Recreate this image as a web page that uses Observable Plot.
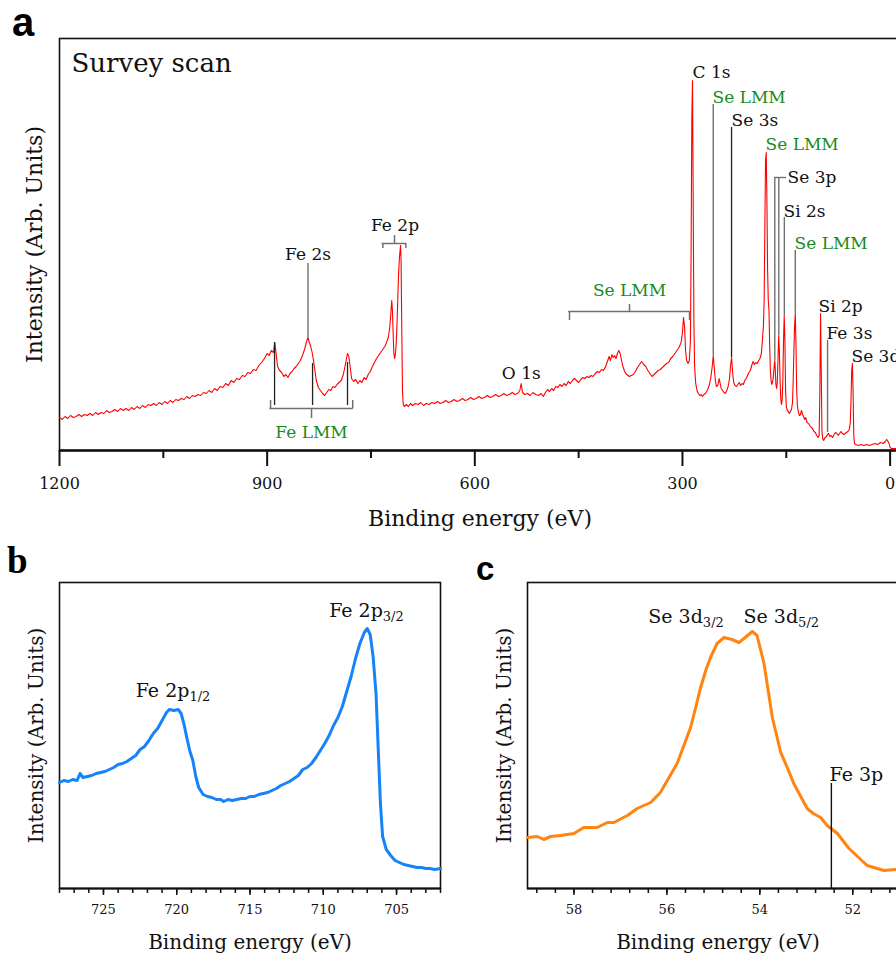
<!DOCTYPE html>
<html>
<head>
<meta charset="utf-8">
<script src="https://cdn.jsdelivr.net/npm/d3@7"></script>
<script src="https://cdn.jsdelivr.net/npm/@observablehq/plot@0.6"></script>
<style>
  html, body { margin: 0; padding: 0; background: #fff; overflow: hidden; }
  #figure { position: relative; width: 896px; height: 955px; overflow: hidden; background: #fff; }
  .panel { position: absolute; width: 1000px; }
  .panel svg { display: block; max-width: none !important; height: auto; }
  #tags { position: absolute; left: 0; top: 0; pointer-events: none; }
</style>
</head>
<body>
<div id="figure">
  <div class="panel" id="survey" style="left:0;top:0"></div>
  <div class="panel" id="fe2p" style="left:0;top:550px"></div>
  <div class="panel" id="se3d" style="left:450px;top:550px"></div>
  <svg id="tags" width="896" height="955">
    <text x="12" y="36" font-family="'Liberation Sans', Arial, sans-serif" font-weight="bold" font-size="40">a</text>
    <text x="7" y="573" font-family="'Liberation Serif', 'Times New Roman', serif" font-weight="bold" font-size="37">b</text>
    <text x="476" y="580" font-family="'Liberation Sans', Arial, sans-serif" font-weight="bold" font-size="33">c</text>
  </svg>
</div>
<script>
// ---------- (a) survey spectrum: [binding energy (eV), intensity (arb.)] ----------
const survey = [
  [1200,33],[1196,31],[1192,34],[1188,32],[1184,35],[1180,33],[1176,34],[1172,36],[1168,34],[1164,36],
  [1160,35],[1156,37],[1152,35],[1148,38],[1144,36],[1140,38],[1136,37],[1132,40],[1128,38],[1124,39],
  [1120,41],[1116,39],[1112,42],[1108,40],[1104,42],[1100,40],[1096,43],[1092,41],[1088,44],[1084,42],
  [1080,45],[1076,43],[1072,46],[1068,45],[1064,47],[1060,45],[1056,48],[1052,46],[1048,49],[1044,47],
  [1040,50],[1036,48],[1032,51],[1028,50],[1024,52],[1020,51],[1016,54],[1012,52],[1008,55],[1004,54],
  [1000,56],[996,55],[992,58],[988,57],[984,60],[980,58],[976,62],[972,60],[968,64],[964,63],
  [960,67],[956,65],[952,70],[948,68],[944,72],[940,71],[936,75],[932,74],[928,78],[924,77],
  [920,81],[916,80],[912,85],[908,88],[904,92],[900,97],[897,95],[894,100],[891,98],[889,108],
  [887,97],[885,84],[882,80],[879,78],[876,74],[873,76],[870,73],[867,77],[864,79],[861,82],
  [858,84],[855,87],[852,90],[849,95],[846,101],[843,109],[841,113],[839,108],[837,104],[835,98],
  [833,90],[831,80],[829,70],[826,63],[823,60],[820,57],[817,55],[814,58],[811,61],[808,60],
  [805,64],[802,63],[799,66],[796,68],[793,70],[790,76],[787,86],[784,97],[782,94],[780,83],
  [778,72],[775,69],[772,71],[769,67],[766,70],[763,68],[760,73],[757,71],[754,76],[751,79],
  [748,84],[745,88],[742,92],[739,95],[736,98],[733,101],[730,104],[727,109],[725,113],[723,122],
  [721,140],[720,150],[719,140],[718,118],[717,98],[716,92],[715,95],[714,102],[713,115],[712,135],
  [711,158],[710,178],[709,192],[708,200],[707.3,205],[706.5,190],[705.5,120],[704.5,60],[703.5,47],[702,44],
  [699,46],[696,44],[693,47],[690,45],[686,47],[682,46],[678,48],[674,45],[670,47],[666,46],
  [662,48],[658,47],[654,49],[650,47],[646,48],[642,50],[638,48],[634,49],[630,51],[626,49],
  [622,50],[618,52],[614,50],[610,51],[606,53],[602,51],[598,52],[594,54],[590,52],[586,53],
  [582,55],[578,53],[574,54],[570,56],[566,54],[562,55],[558,57],[554,55],[550,56],[546,58],
  [542,56],[538,57],[535,60],[533,67],[531,58],[528,56],[524,57],[520,55],[516,58],[512,56],
  [508,55],[504,57],[501,54],[498,58],[495,61],[492,59],[489,62],[486,60],[483,64],[480,63],
  [477,66],[474,64],[471,67],[468,65],[465,69],[462,67],[459,70],[456,72],[453,70],[450,68],
  [447,71],[444,73],[441,72],[438,74],[435,73],[432,75],[429,74],[426,77],[423,79],[420,78],
  [417,81],[414,80],[411,84],[408,90],[406,94],[404,90],[402,96],[400,93],[398,95],[396,92],
  [394,97],[392,100],[390,97],[388,90],[386,84],[384,80],[382,77],[380,76],[377,74],[374,75],
  [371,76],[368,79],[365,83],[362,86],[359,89],[356,86],[353,84],[350,80],[347,77],[344,74],
  [341,76],[338,78],[335,80],[332,81],[329,83],[326,85],[323,87],[320,88],[317,92],[314,94],
  [311,97],[308,100],[305,103],[302,108],[300,118],[298.5,133],[297,124],[295.5,100],[294,90],[292,87],
  [290,90],[288.5,110],[287.5,200],[286.5,330],[285.5,370],[284.5,250],[283.5,130],[282.5,85],[281,68],[279,60],
  [277,57],[275,55],[273,56],[271,54],[269,56],[267,57],[265,59],[263,62],[261,66],[259,73],
  [257,84],[255.5,95],[254,82],[252.5,70],[251,64],[249,65],[247,72],[245.5,67],[244,62],[242,60],
  [240,58],[238,57],[236,60],[234,64],[232,72],[230.5,85],[229,93],[227.5,78],[226,68],[224,65],
  [222,64],[220,66],[218,68],[216,65],[214,67],[212,66],[210,70],[208,72],[206,75],[204,78],
  [202,80],[200,85],[198,89],[196,86],[194,88],[192,87],[190,90],[188,92],[186,97],[184.5,110],
  [183,125],[182,150],[181,220],[180,290],[179,298],[178,250],[177,180],[176,150],[175,140],[174,105],
  [173,80],[172,70],[171,66],[170,68],[169,72],[168,80],[167,88],[166.5,90],[166,82],[165,66],
  [164,62],[163,68],[162,90],[161,115],[160,100],[159,70],[158,52],[157,46],[156,50],[155,70],
  [154,110],[153,135],[152,110],[151,60],[150,44],[148.5,40],[147,39],[145.5,37],[144,39],[142.5,41],
  [141,48],[140,70],[139,100],[138,125],[137,137],[136,105],[135,60],[134,45],[132.5,38],[131,35],
  [129.5,36],[128,40],[126.5,36],[125,34],[123.5,31],[122,33],[120,28],[118,27],[116,25],[114,23],
  [112,22],[110,19],[108,18],[106,15],[104,13],[102.5,15],[101.5,60],[100.5,137],[99.5,80],[98.5,20],
  [97.5,12],[96,10],[94,13],[92,14],[90.5,16],[89,17],[87,14],[85,15],[83,13],[81,16],
  [79,18],[77,17],[75,15],[73,17],[71,19],[69,17],[67,16],[65,17],[63,18],[61,19],
  [59,21],[57.5,28],[56.5,50],[55.5,80],[54.5,87],[53.5,60],[52.5,15],[51.5,7],[50,6],[46,5],
  [42,6],[38,5],[34,6],[30,5],[26,6],[22,7],[18,6],[14,8],[10,7],[7,9],
  [5,11],[3,9],[1,6],[0,3],[-2,2],[-6,2],[-10,2],[-15,2]
];
const surveyTicks = [1200, 900, 600, 300, 0];
const surveyMinorTicks = [1050, 750, 450, 150];

// Peak assignments: label baseline position in (eV, intensity); kind = core level or Auger
const peakLabels = [
  {label: "C 1s",   kind: "core",  be: 285.5, v: 373},
  {label: "Se LMM", kind: "auger", be: 256.6, v: 348},
  {label: "Se 3s",  kind: "core",  be: 229.1, v: 325},
  {label: "Se LMM", kind: "auger", be: 180.0, v: 301},
  {label: "Se 3p",  kind: "core",  be: 148.2, v: 268},
  {label: "Si 2s",  kind: "core",  be: 154.0, v: 234},
  {label: "Se LMM", kind: "auger", be: 138.1, v: 202},
  {label: "Si 2p",  kind: "core",  be: 103.4, v: 139},
  {label: "Fe 3s",  kind: "core",  be: 91.9,  v: 112},
  {label: "Se 3d",  kind: "core",  be: 55.8,  v: 89}
];
const groupLabels = [
  {label: "Fe 2p",  kind: "core",  be: 715.3, v: 220},
  {label: "Fe 2s",  kind: "core",  be: 841.0, v: 191},
  {label: "O 1s",   kind: "core",  be: 532.9, v: 72},
  {label: "Fe LMM", kind: "auger", be: 835.9, v: 13},
  {label: "Se LMM", kind: "auger", be: 376.5, v: 155}
];
// Leader lines from a label down to its peak
const leaders = [
  {label: "Fe 2s",  be: 841.0, top: 187, bottom: 113},
  {label: "Se LMM", be: 255.5, top: 346, bottom: 95},
  {label: "Se 3s",  be: 229.1, top: 323, bottom: 93},
  {label: "Se 3p",  be: 166.6, top: 273, bottom: 90},
  {label: "Se 3p",  be: 160.8, top: 273, bottom: 115},
  {label: "Si 2s",  be: 152.8, top: 233, bottom: 135},
  {label: "Se LMM", be: 137.0, top: 200, bottom: 137},
  {label: "Fe 3s",  be: 90.4,  top: 110, bottom: 18},
  {label: "Fe LMM", be: 889.3, top: 108, bottom: 45},
  {label: "Fe LMM", be: 834.4, top: 87,  bottom: 45},
  {label: "Fe LMM", be: 783.9, top: 88,  bottom: 45}
];
const se3pJoin = [{from: 166.6, to: 149.7, v: 273}];
// Brackets grouping several features: bar level, end-tick tip, centre-tick tip
const brackets = [
  {label: "Fe 2p",  from: 732.8, to: 699.6, bar: 207, tip: 202, mid: 716.0, midTip: 215},
  {label: "Fe LMM", from: 895.1, to: 776.4, bar: 42,  tip: 50,  mid: 835.9, midTip: 32},
  {label: "Se LMM", from: 463.2, to: 289.8, bar: 139, tip: 130, mid: 376.5, midTip: 146}
];

// ---------- (b) Fe 2p high-resolution ----------
const fe2p = [
  [728.0,106],[727.7,108],[727.4,107],[727.1,109],[726.8,108],[726.6,115],[726.4,111],[726.1,112],[725.8,113],[725.5,115],
  [725.2,116],[724.9,117],[724.6,119],[724.3,121],[724.0,124],[723.7,125],[723.4,127],[723.1,130],[722.8,133],[722.5,139],
  [722.2,142],[721.9,148],[721.6,155],[721.3,160],[721.0,168],[720.7,176],[720.5,179],[720.2,178],[719.9,179],[719.7,175],
  [719.5,164],[719.3,150],[719.1,137],[718.9,128],[718.7,112],[718.5,101],[718.2,94],[717.9,92],[717.6,91],[717.3,89],
  [717.0,89],[716.8,87],[716.5,89],[716.2,88],[715.9,89],[715.6,90],[715.3,90],[715.0,92],[714.7,92],[714.4,94],
  [714.1,95],[713.8,96],[713.5,98],[713.2,100],[712.9,103],[712.6,105],[712.3,107],[712.0,110],[711.7,113],[711.4,119],
  [711.1,121],[710.8,125],[710.5,131],[710.2,138],[709.9,145],[709.6,153],[709.3,163],[709.0,171],[708.7,182],[708.4,197],
  [708.1,212],[707.8,230],[707.5,245],[707.2,256],[707.0,260],[706.8,254],[706.6,232],[706.4,195],[706.25,140],[706.1,85],
  [705.95,52],[705.7,39],[705.4,33],[705.1,28],[704.8,26],[704.5,24],[704.2,23],[703.9,22],[703.6,21],[703.3,21],
  [703.0,20],[702.7,20],[702.4,19],[702.0,20]
];
const fe2pTicks = [725, 720, 715, 710, 705];
const fe2pMinorTicks = d3.range(702, 729, 1);
const fe2pPeaks = [
  {label: "Fe 2p|1/2", be: 722.8, v: 192},
  {label: "Fe 2p|3/2", be: 709.6, v: 272}
];

// ---------- (c) Se 3d high-resolution ----------
const se3d = [
  [59.0,51],[58.79,52],[58.65,49],[58.5,52],[58.29,53],[58.0,55],[57.79,61],[57.5,61],[57.28,66],[57.14,66],
  [56.85,73],[56.64,80],[56.35,86],[56.14,96],[55.78,125],[55.65,141],[55.49,161],[55.38,181],[55.28,200],[55.15,220],
  [55.06,231],[54.92,245],[54.77,251],[54.6,249],[54.45,246],[54.34,250],[54.16,257],[54.06,253],[53.91,225],[53.82,198],
  [53.73,171],[53.55,136],[53.4,120],[53.27,105],[52.98,80],[52.85,75],[52.69,71],[52.55,63],[52.33,55],[52.08,40],
  [51.69,23],[51.33,18],[51.04,19],[50.8,19]
];
const se3dTicks = [58, 56, 54, 52];
const se3dMinorTicks = d3.range(0, 20).map(i => +(58.8 - 0.4 * i).toFixed(1));
const se3dPeaks = [
  {label: "Se 3d|3/2", be: 56.40, v: 266},
  {label: "Se 3d|5/2", be: 54.35, v: 266},
  {label: "Fe 3p",     be: 52.50, v: 108}
];
const fe3pLeader = [{be: 52.46, top: 105}];

// ---------- drawing ----------
const serif = "'DejaVu Serif', 'Liberation Serif', serif";
const ink = "#111";
const grey = "#707070";
const augerGreen = "#1b8a1b";
const darkLeaders = new Set(["Se 3s", "Fe LMM"]);

// turn "main|sub" text into main text plus a subscript tspan
function subscriptLabels(svg, subSize) {
  d3.select(svg).selectAll("text").each(function () {
    const t = this.textContent;
    if (!t.includes("|")) return;
    const [main, sub] = t.split("|");
    this.textContent = main;
    d3.select(this).append("tspan").attr("dy", 4).attr("font-size", subSize).text(sub);
  });
}

const surveyPlot = Plot.plot({
  width: 910, height: 540,
  marginLeft: 59, marginRight: 10, marginTop: 38, marginBottom: 90,
  x: {domain: [1200, -15], label: null},
  y: {domain: [0, 412], axis: null},
  style: {fontFamily: serif, fontSize: "16px", color: ink, background: "transparent", overflow: "visible", maxWidth: "none"},
  marks: [
    Plot.frame({stroke: ink, strokeWidth: 1.6}),
    Plot.axisX({ticks: surveyMinorTicks, tickSize: 8, tickFormat: () => "", strokeWidth: 2, label: null}),
    Plot.axisX({ticks: surveyTicks, tickSize: 16, tickPadding: 11, tickFormat: d => String(d), strokeWidth: 2, fontSize: 16, label: null}),
    Plot.ruleY([0], {stroke: ink, strokeWidth: 2.4}),
    Plot.line(survey, {x: d => d[0], y: d => d[1], stroke: "#ff0000", strokeWidth: 1.1}),
    Plot.ruleX(leaders.filter(d => !darkLeaders.has(d.label)), {x: "be", y1: "top", y2: "bottom", stroke: grey, strokeWidth: 1.4}),
    Plot.ruleX(leaders.filter(d => darkLeaders.has(d.label)), {x: "be", y1: "top", y2: "bottom", stroke: "#222", strokeWidth: 1.3}),
    Plot.ruleY(se3pJoin, {y: "v", x1: "from", x2: "to", stroke: grey, strokeWidth: 1.4}),
    Plot.ruleY(brackets, {y: "bar", x1: "from", x2: "to", stroke: grey, strokeWidth: 1.5, strokeLinecap: "square"}),
    Plot.ruleX(brackets.flatMap(b => [{x: b.from, y1: b.bar, y2: b.tip}, {x: b.to, y1: b.bar, y2: b.tip}]),
      {x: "x", y1: "y1", y2: "y2", stroke: grey, strokeWidth: 1.5}),
    Plot.ruleX(brackets, {x: "mid", y1: "bar", y2: "midTip", stroke: grey, strokeWidth: 1.5}),
    Plot.text(peakLabels.filter(d => d.kind === "core"), {x: "be", y: "v", text: "label", textAnchor: "start", lineAnchor: "bottom", fontSize: 17, fill: ink}),
    Plot.text(peakLabels.filter(d => d.kind === "auger"), {x: "be", y: "v", text: "label", textAnchor: "start", lineAnchor: "bottom", fontSize: 17, fill: augerGreen}),
    Plot.text(groupLabels.filter(d => d.kind === "core"), {x: "be", y: "v", text: "label", textAnchor: "middle", lineAnchor: "bottom", fontSize: 17, fill: ink}),
    Plot.text(groupLabels.filter(d => d.kind === "auger"), {x: "be", y: "v", text: "label", textAnchor: "middle", lineAnchor: "bottom", fontSize: 17, fill: augerGreen}),
    Plot.text(["Survey scan"], {text: d => d, frameAnchor: "top-left", dx: 12, dy: 33, textAnchor: "start", lineAnchor: "bottom", fontSize: 26, fill: ink}),
    Plot.text(["Binding energy (eV)"], {text: d => d, frameAnchor: "bottom", dy: 75, textAnchor: "middle", lineAnchor: "bottom", fontSize: 22, fill: ink}),
    Plot.text(["Intensity (Arb. Units)"], {text: d => d, frameAnchor: "left", rotate: -90, dx: -25, textAnchor: "middle", lineAnchor: "middle", fontSize: 22, fill: ink})
  ]
});
document.getElementById("survey").appendChild(surveyPlot);

function detailPlot({data, domain, ticks, minorTicks, peaks, color, marginLeft, width, extra = []}) {
  return Plot.plot({
    width, height: 405,
    marginLeft, marginRight: width - marginLeft - 381, marginTop: 32, marginBottom: 67,
    x: {domain, label: null},
    y: {domain: [0, 306], axis: null},
    style: {fontFamily: serif, fontSize: "13px", color: ink, background: "transparent", overflow: "visible", maxWidth: "none"},
    marks: [
      Plot.frame({stroke: ink, strokeWidth: 1.6}),
      Plot.axisX({ticks: minorTicks, tickSize: 5, tickFormat: () => "", strokeWidth: 1.5, label: null}),
      Plot.axisX({ticks, tickSize: 7, tickPadding: 9, tickFormat: d => String(d), strokeWidth: 1.5, fontSize: 13, label: null}),
      Plot.ruleY([0], {stroke: ink, strokeWidth: 2.2}),
      Plot.line(data, {x: d => d[0], y: d => d[1], stroke: color, strokeWidth: 3, strokeLinejoin: "round"}),
      ...extra,
      Plot.text(peaks, {x: "be", y: "v", text: "label", textAnchor: "start", lineAnchor: "bottom", fontSize: 19, fill: ink}),
      Plot.text(["Binding energy (eV)"], {text: d => d, frameAnchor: "bottom", dy: 60, textAnchor: "middle", lineAnchor: "bottom", fontSize: 20, fill: ink}),
      Plot.text(["Intensity (Arb. Units)"], {text: d => d, frameAnchor: "left", rotate: -90, dx: -23, textAnchor: "middle", lineAnchor: "middle", fontSize: 20, fill: ink})
    ]
  });
}

const fe2pPlot = detailPlot({
  data: fe2p, domain: [728, 702], ticks: fe2pTicks, minorTicks: fe2pMinorTicks,
  peaks: fe2pPeaks, color: "#1683fb", marginLeft: 59, width: 450
});
subscriptLabels(fe2pPlot, 13);
document.getElementById("fe2p").appendChild(fe2pPlot);

const se3dPlot = detailPlot({
  data: se3d, domain: [59, 50.8], ticks: se3dTicks, minorTicks: se3dMinorTicks,
  peaks: se3dPeaks, color: "#ff8410", marginLeft: 77, width: 470,
  extra: [Plot.ruleX(fe3pLeader, {x: "be", y1: 0, y2: "top", stroke: ink, strokeWidth: 1.4})]
});
subscriptLabels(se3dPlot, 13);
document.getElementById("se3d").appendChild(se3dPlot);
</script>
</body>
</html>
